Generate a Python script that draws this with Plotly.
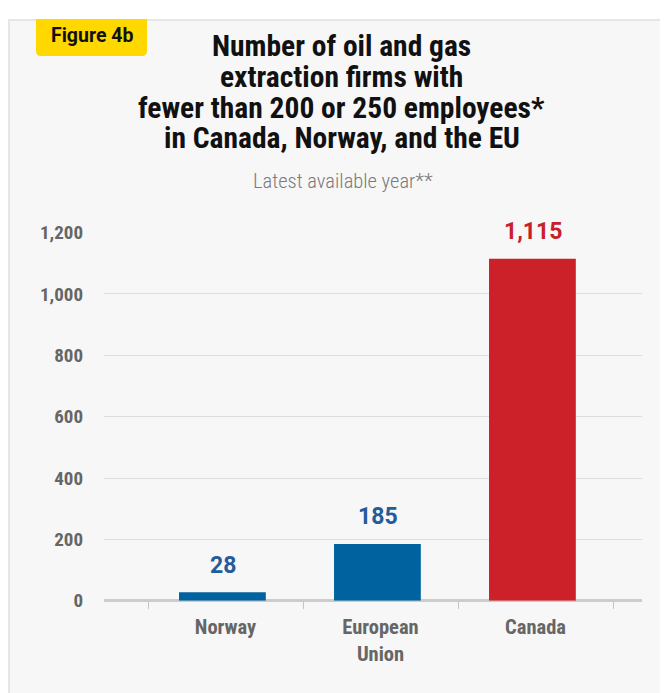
import plotly.graph_objects as go

categories = ["Norway", "European<br>Union", "Canada"]
values = [28, 185, 1115]
value_labels = ["28", "185", "1,115"]
bar_colors = ["#00639f", "#00639f", "#cc2129"]
label_colors = ["#255b9b", "#255b9b", "#c8202a"]
y_ticks = [0, 200, 400, 600, 800, 1000, 1200]
title_lines = ["Number of oil and gas", "extraction firms with",
               "fewer than 200 or 250 employees*", "in Canada, Norway, and the EU"]
subtitle = "Latest available year**"
tag = "Figure 4b"

W, H = 668, 693
# observed placement of the figure in the photographed page
OX, OY, VIS_H = 8, 19, 668
def sx(x):
    return (x - OX) / W
def sy(y):
    return 1 - (y - OY) / VIS_H

fig = go.Figure()
fig.add_trace(go.Bar(
    x=categories, y=values, marker=dict(color=bar_colors, line=dict(width=0)),
    width=0.56, offset=-0.30, cliponaxis=False, hoverinfo="skip"))

shapes = [
    dict(type="rect", xref="paper", yref="paper", x0=sx(9), x1=sx(720), y0=sy(760), y1=sy(20),
         fillcolor="#f7f7f7", line=dict(color="#e0e0e0", width=1.5), layer="below"),
    dict(type="path", xref="paper", yref="paper",
         path=f"M {sx(36)} {sy(19)} L {sx(147)} {sy(19)} L {sx(147)} {sy(51)} "
              f"Q {sx(147)} {sy(56)} {sx(142)} {sy(56)} L {sx(41)} {sy(56)} "
              f"Q {sx(36)} {sy(56)} {sx(36)} {sy(51)} Z",
         fillcolor="#ffd800", line=dict(width=0), layer="below"),
]

annotations = [dict(text=tag, x=sx(92), y=sy(35), xref="paper", yref="paper",
                    showarrow=False, xanchor="center", yanchor="middle",
                    font=dict(family="Roboto", size=19.5, color="#111", weight="bold"))]
title_centers = [45.5, 76.5, 107.5, 138]
for line, cy in zip(title_lines, title_centers):
    annotations.append(dict(text=line, x=sx(341.5), y=sy(cy), xref="paper", yref="paper",
                            showarrow=False, xanchor="center", yanchor="middle",
                            font=dict(family="Roboto Condensed", size=29.5, color="#111",
                                      weight="bold")))
annotations.append(dict(text=subtitle, x=sx(343), y=sy(181), xref="paper", yref="paper",
                        showarrow=False, xanchor="center", yanchor="middle",
                        font=dict(family="Roboto Condensed", size=20.5, color="#7a7a7a", weight=300)))
for cat, val, lab, col in zip(categories, values, value_labels, label_colors):
    annotations.append(dict(text=lab, x=cat, y=val, xref="x", yref="y", showarrow=False,
                            xanchor="center", yanchor="middle", yshift=27, xshift=-3,
                            font=dict(family="Roboto", size=23, color=col, weight="bold")))

fig.update_layout(
    width=W, height=H, margin=dict(l=0, r=0, t=0, b=0),
    paper_bgcolor="white", plot_bgcolor="rgba(0,0,0,0)",
    showlegend=False, shapes=shapes, annotations=annotations,
    xaxis=dict(domain=[sx(104), sx(642)], range=[-0.784, 2.687], tickson="boundaries",
               ticks="outside", ticklen=7, tickcolor="#c4c4c4", tickwidth=1.2,
               showgrid=False, showline=False, zeroline=False, ticklabelstandoff=12,
               tickfont=dict(family="Roboto Condensed", size=20.5, color="#666", weight="bold")),
    yaxis=dict(domain=[sy(599), sy(232)], range=[0, 1200], tickvals=y_ticks,
               tickformat=",", showgrid=True, gridcolor="#dddddd", gridwidth=1.2,
               zeroline=True, zerolinecolor="#cccccc", zerolinewidth=3,
               ticks="", ticklabelstandoff=20,
               tickfont=dict(family="Roboto Condensed", size=19, color="#666", weight="bold")),
)
fig.write_html("out.html")
